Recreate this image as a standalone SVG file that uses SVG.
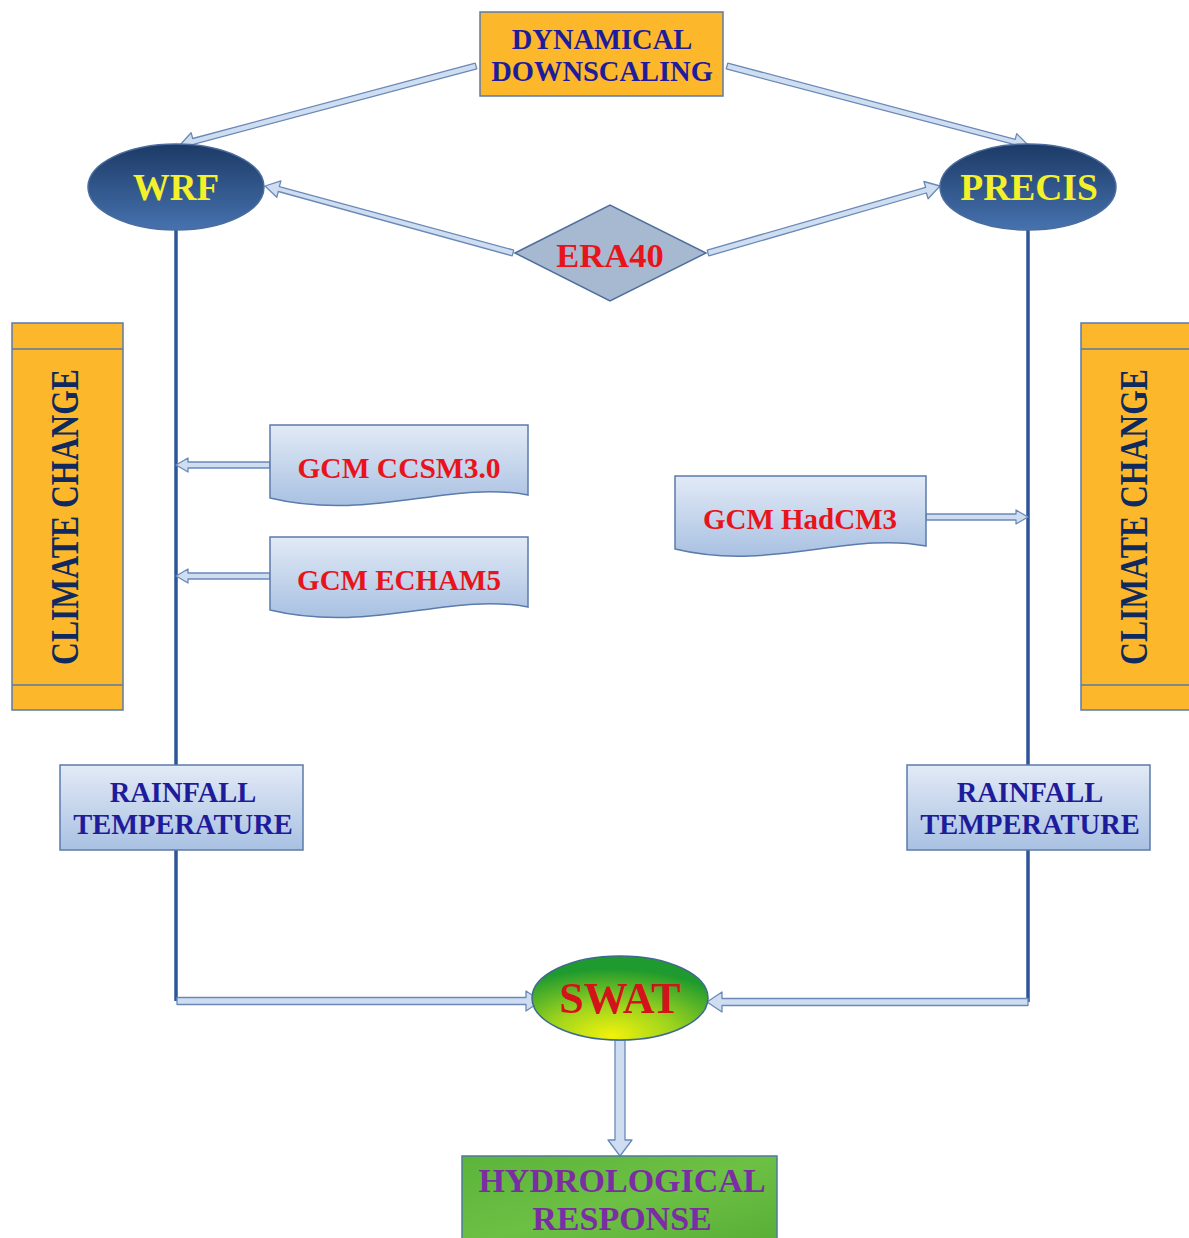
<svg xmlns="http://www.w3.org/2000/svg" width="1189" height="1238" viewBox="0 0 1189 1238">
<defs>
<linearGradient id="gBlue" x1="0" y1="0" x2="0" y2="1">
<stop offset="0" stop-color="#1C3A66"/><stop offset="1" stop-color="#4672AE"/>
</linearGradient>
<linearGradient id="gLight" x1="0" y1="0" x2="0" y2="1">
<stop offset="0" stop-color="#E2EAF6"/><stop offset="1" stop-color="#A9C1E2"/>
</linearGradient>
<radialGradient id="gGreen" cx="0.45" cy="0.95" r="0.8">
<stop offset="0" stop-color="#F2F20A"/><stop offset="0.45" stop-color="#9ED41E"/><stop offset="1" stop-color="#1E9A2E"/>
</radialGradient>
<linearGradient id="gLeaf" x1="0" y1="0" x2="1" y2="1">
<stop offset="0" stop-color="#5CB43A"/><stop offset="0.5" stop-color="#6CC044"/><stop offset="1" stop-color="#58AE36"/>
</linearGradient>
<style>
.t{font-family:"Liberation Serif","Times New Roman",serif;font-weight:bold;text-anchor:middle}
.orange{fill:#FDB72A;stroke:#5B7BAA;stroke-width:1.5}
.light{fill:url(#gLight);stroke:#5B7BAA;stroke-width:1.5}
.arr{fill:#CFDDF0;stroke:#6A89B8;stroke-width:1.3;stroke-linejoin:round}
.vl{stroke:#2E5597;stroke-width:3.5;fill:none}
.navy{fill:#1F1C9C}
.red{fill:#E8141C}
</style>
</defs>

<g id="connectors">
<path class="vl" d="M176,230 V765 M176,850 V1001"/>
<path class="vl" d="M1028,230 V765 M1028,850 V1002"/>
<polygon class="arr" points="475.2,63.1 192.7,138.5 191.1,132.7 180,145 194.9,150.1 193.3,144.3 476.8,68.9"/>
<polygon class="arr" points="726.2,68.9 1013.7,144.4 1012.1,150.2 1028,145 1016.7,133.6 1015.2,139.4 727.8,63.1"/>
<polygon class="arr" points="513.8,250.1 279.3,186.7 280.9,180.9 265,186 276.8,197.3 278.3,191.5 512.2,255.9"/>
<polygon class="arr" points="708.8,255.9 926.4,193.0 928.1,198.8 940,186 923.9,181.5 925.6,187.3 707.2,250.1"/>
<polygon class="arr" points="270,462 188,462 188,458 176,465 188,472 188,468 270,468"/>
<polygon class="arr" points="270,573 188,573 188,569 176,576 188,583 188,579 270,579"/>
<polygon class="arr" points="926,514 1016,514 1016,510 1028,517 1016,524 1016,520 926,520"/>
<polygon class="arr" points="177,997.5 526,997.5 526,991 541,1001 526,1011 526,1004.5 177,1004.5"/>
<polygon class="arr" points="1028,998.5 722,998.5 722,992 707,1002 722,1012 722,1005.5 1028,1005.5"/>
<polygon class="arr" points="615,1040 615,1140 608,1140 620,1156 632,1140 625,1140 625,1040"/>
</g>

<g id="dynamical-downscaling">
<rect class="orange" x="480" y="12" width="243" height="84"/>
<text class="t navy" x="602" y="49" font-size="28.5">DYNAMICAL</text>
<text class="t navy" x="602" y="81" font-size="28.5">DOWNSCALING</text>
</g>

<g id="wrf">
<ellipse cx="176" cy="187" rx="88" ry="43" fill="url(#gBlue)" stroke="#4A6C9E" stroke-width="1.5"/>
<text class="t" x="176" y="200" font-size="37" fill="#F4F02A">WRF</text>
</g>

<g id="precis">
<ellipse cx="1028" cy="187" rx="88" ry="43" fill="url(#gBlue)" stroke="#4A6C9E" stroke-width="1.5"/>
<text class="t" x="1029" y="200" font-size="37.5" fill="#F4F02A">PRECIS</text>
</g>

<g id="era40">
<polygon points="515,253 610,205 706,253 610,301" fill="#A7B9D1" stroke="#4E6E9A" stroke-width="1.5"/>
<text class="t red" x="610" y="267" font-size="34.5">ERA40</text>
</g>

<g id="climate-change-left">
<rect class="orange" x="12" y="323" width="111" height="387"/>
<path d="M12,349 H123 M12,685 H123" stroke="#5B7BAA" stroke-width="1.5"/>
<text class="t" transform="translate(78,517) rotate(-90)" font-size="41" textLength="296" lengthAdjust="spacingAndGlyphs" fill="#0E2A5E">CLIMATE CHANGE</text>
</g>

<g id="climate-change-right">
<rect class="orange" x="1081" y="323" width="112" height="387"/>
<path d="M1081,349 H1189 M1081,685 H1189" stroke="#5B7BAA" stroke-width="1.5"/>
<text class="t" transform="translate(1147,517) rotate(-90)" font-size="41" textLength="296" lengthAdjust="spacingAndGlyphs" fill="#0E2A5E">CLIMATE CHANGE</text>
</g>

<g id="gcm-ccsm">
<path class="light" d="M270,425 H528 V495 C450,480 370,522 270,498 Z"/>
<text class="t red" x="399" y="478" font-size="29.5">GCM CCSM3.0</text>
</g>

<g id="gcm-echam">
<path class="light" d="M270,537 H528 V607 C450,592 370,634 270,610 Z"/>
<text class="t red" x="399" y="590" font-size="29">GCM ECHAM5</text>
</g>

<g id="gcm-hadcm">
<path class="light" d="M675,476 H926 V546 C850,531 770,572 675,549 Z"/>
<text class="t red" x="800" y="529" font-size="29">GCM HadCM3</text>
</g>

<g id="rainfall-left">
<rect class="light" x="60" y="765" width="243" height="85"/>
<text class="t navy" x="183" y="802" font-size="28.5">RAINFALL</text>
<text class="t navy" x="183" y="834" font-size="28.5">TEMPERATURE</text>
</g>

<g id="rainfall-right">
<rect class="light" x="907" y="765" width="243" height="85"/>
<text class="t navy" x="1030" y="802" font-size="28.5">RAINFALL</text>
<text class="t navy" x="1030" y="834" font-size="28.5">TEMPERATURE</text>
</g>

<g id="swat">
<ellipse cx="620" cy="998" rx="88" ry="42" fill="url(#gGreen)" stroke="#3E6A8E" stroke-width="1.5"/>
<text class="t" x="620" y="1013" font-size="44" fill="#D4121A">SWAT</text>
</g>

<g id="hydrological-response">
<rect x="462" y="1156" width="315" height="90" fill="url(#gLeaf)" stroke="#4E7A9E" stroke-width="1.5"/>
<text class="t" x="622" y="1192" font-size="34" fill="#7A2EA2">HYDROLOGICAL</text>
<text class="t" x="622" y="1230" font-size="34" fill="#7A2EA2">RESPONSE</text>
</g>
</svg>
